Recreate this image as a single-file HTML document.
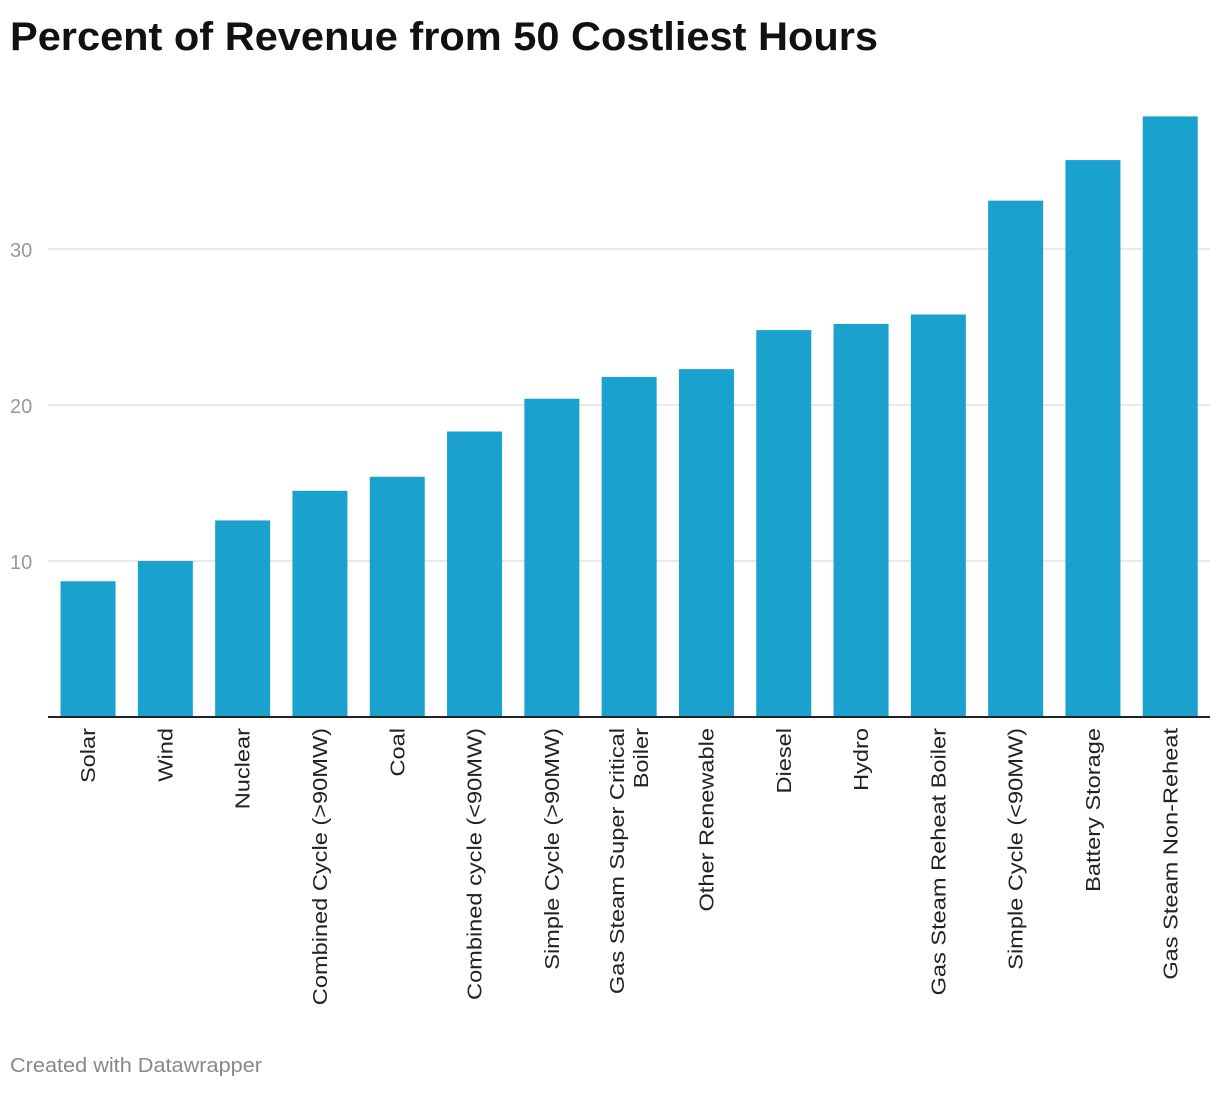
<!DOCTYPE html>
<html><head><meta charset="utf-8"><style>
body{margin:0;background:#fff;font-family:"Liberation Sans",Arial,sans-serif;}
</style></head><body>
<svg width="1220" height="1088" viewBox="0 0 1220 1088" id="svg">
<text x="10" y="50" font-size="40" font-weight="bold" fill="#111" textLength="868" lengthAdjust="spacingAndGlyphs">Percent of Revenue from 50 Costliest Hours</text>
<text x="10" y="1072" font-size="20" fill="#888" textLength="252" lengthAdjust="spacingAndGlyphs">Created with Datawrapper</text>
<g id="grid"></g><g id="bars"></g><g id="labels"></g>
</svg>
<script>
const categories=["Solar","Wind","Nuclear","Combined Cycle (>90MW)","Coal","Combined cycle (<90MW)","Simple Cycle (>90MW)","Gas Steam Super Critical|Boiler","Other Renewable","Diesel","Hydro","Gas Steam Reheat Boiler","Simple Cycle (<90MW)","Battery Storage","Gas Steam Non-Reheat"];
const values=[8.7,10.0,12.6,14.5,15.4,18.3,20.4,21.8,22.3,24.8,25.2,25.8,33.1,35.7,38.5];
const ticks=[10,20,30];
const NS="http://www.w3.org/2000/svg";
const y0=717, ppu=15.6, left=49.4, band=77.3, bw=55;
const yS=v=>y0-v*ppu;
const xC=i=>left+band*(i+0.5);
const mk=(t,a,p)=>{const e=document.createElementNS(NS,t);for(const k in a)e.setAttribute(k,a[k]);p.appendChild(e);return e;};
const grid=document.getElementById('grid'),bars=document.getElementById('bars'),labels=document.getElementById('labels');
ticks.forEach(t=>{
 const l=mk('line',{x1:48,x2:1210,y1:yS(t),y2:yS(t),stroke:'#e2e2e2','stroke-width':1.5},grid);
 
 
 const tx=mk('text',{x:10,y:yS(t)+8,'font-size':20,fill:'#999'},grid);
 tx.textContent=t;
 
 
});
values.forEach((v,i)=>{
 const r=mk('rect',{x:xC(i)-bw/2,y:yS(v),width:bw,height:v*ppu,fill:'#1aa1ce'},bars);
 
 
 const parts=categories[i].split('|');
 const g=mk('text',{transform:`translate(${xC(i)},728) rotate(-90) scale(1.18,1)`,'text-anchor':'end','font-size':20,fill:'#222'},labels);
 
 
 parts.forEach((p,j)=>{
  const off=(j-(parts.length-1)/2)*24+7;
  const s=mk('tspan',{x:0,y:off},g);
  s.textContent=p;
 });
});
const ax=mk('line',{x1:48,x2:1210,y1:y0,y2:y0,stroke:'#222','stroke-width':2},document.getElementById('svg'));


</script>
</body></html>
